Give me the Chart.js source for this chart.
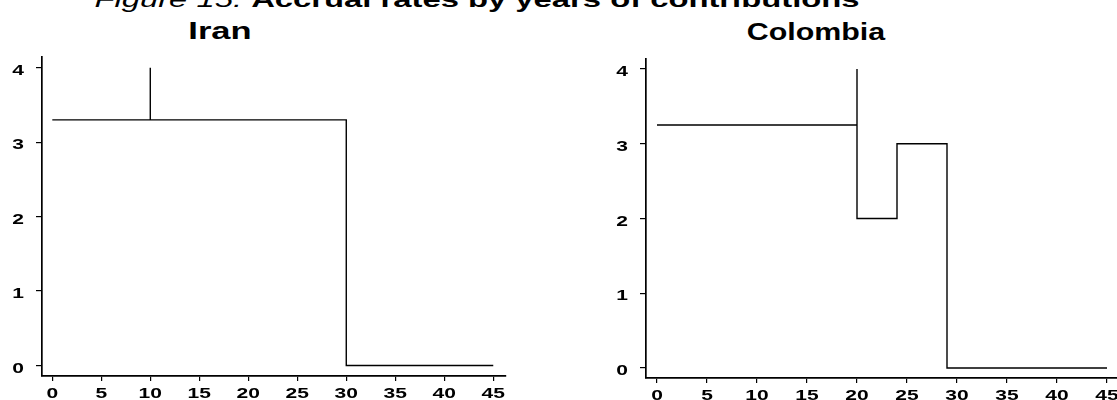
<!DOCTYPE html>
<html>
<head>
<meta charset="utf-8">
<script src="https://cdn.jsdelivr.net/npm/chart.js@4.4.1/dist/chart.umd.min.js"></script>
<style>
  body { margin: 0; background: #fff; width: 1117px; height: 400px; overflow: hidden; position: relative; font-family: "Liberation Sans", Arial, sans-serif; }
  canvas { position: absolute; top: 0; }
  #iranChart { left: 0; }
  #colChart { left: 560px; }
  .title { position: absolute; white-space: nowrap; color: #000; transform-origin: center; }
  .main { top: -11px; left: 477px; font-size: 22px; line-height: 22px; transform: translateX(-50%) scaleX(1.49); }
  .main i { font-weight: normal; }
  .main b { font-weight: bold; }
  .sub { font-weight: bold; font-size: 23px; line-height: 23px; }
</style>
</head>
<body>
<div class="title main"><i>Figure 15:</i> <b>Accrual rates by years of contributions</b></div>
<div class="title sub" style="left:220px; top:20px; transform: translateX(-50%) scaleX(1.5);">Iran</div>
<div class="title sub" style="left:816px; top:21px; transform: translateX(-50%) scaleX(1.32);">Colombia</div>
<canvas id="iranChart" width="560" height="400"></canvas>
<canvas id="colChart" width="557" height="400"></canvas>
<script>
// years of contributions / accrual rate
const iranYears = [0, 10, 10, 10, 30, 30, 45];
const iranRates = [3.3, 3.3, 4, 3.3, 3.3, 0, 0];

const colYears = [0, 20, 20, 20, 24, 24, 29, 29, 45];
const colRates = [3.25, 3.25, 4, 2, 2, 3, 3, 0, 0];

const xTickValues = [0, 5, 10, 15, 20, 25, 30, 35, 40, 45];
const yTickValues = [0, 1, 2, 3, 4];

// the scan is stretched sideways, so the tick labels are drawn wide by hand
const wideLabels = {
  id: 'wideLabels',
  afterDraw(chart) {
    const ctx = chart.ctx;
    const xs = chart.scales.x, ys = chart.scales.y;
    ctx.save();
    ctx.fillStyle = '#000';
    ctx.font = 'bold 14.5px "Liberation Sans", Arial, sans-serif';
    ctx.textBaseline = 'alphabetic';
    ctx.textAlign = 'center';
    xTickValues.forEach(v => {
      ctx.save();
      ctx.translate(xs.getPixelForValue(v), xs.top + 22);
      ctx.scale(1.45, 1);
      ctx.fillText(String(v), 0, 0);
      ctx.restore();
    });
    ctx.textAlign = 'right';
    yTickValues.forEach(v => {
      ctx.save();
      ctx.translate(chart.chartArea.left - 18, ys.getPixelForValue(v) + 7);
      ctx.scale(1.45, 1);
      ctx.fillText(String(v), 0, 0);
      ctx.restore();
    });
    ctx.restore();
  }
};

function toPoints(xs, ys) {
  return xs.map((x, i) => ({ x: x, y: ys[i] }));
}

function makeChart(id, xs, ys, s) {
  return new Chart(document.getElementById(id), {
    type: 'scatter',
    data: {
      datasets: [{
        data: toPoints(xs, ys),
        showLine: true,
        borderColor: '#000',
        borderWidth: 1.4,
        pointRadius: 0,
        tension: 0,
        fill: false
      }]
    },
    options: {
      responsive: false,
      animation: false,
      layout: { padding: s.padding },
      plugins: { legend: { display: false }, tooltip: { enabled: false } },
      scales: {
        x: {
          type: 'linear',
          min: s.xMin,
          max: s.xMax,
          border: { display: true, color: '#000', width: 1.7 },
          grid: { drawOnChartArea: false, drawTicks: true, tickLength: 5, color: '#000', lineWidth: 1.2 },
          ticks: { color: 'rgba(0,0,0,0)', padding: 4, maxRotation: 0, autoSkip: false },
          afterBuildTicks: (scale) => { scale.ticks = xTickValues.map(v => ({ value: v })); },
          afterFit: (scale) => { scale.height = s.xHeight; scale.paddingLeft = 0; scale.paddingRight = 0; }
        },
        y: {
          type: 'linear',
          min: s.yMin,
          max: s.yMax,
          border: { display: true, color: '#000', width: 1.7 },
          grid: { drawOnChartArea: false, drawTicks: true, tickLength: 6, color: '#000', lineWidth: 1.2 },
          ticks: { color: 'rgba(0,0,0,0)', padding: 10 },
          afterBuildTicks: (scale) => { scale.ticks = yTickValues.map(v => ({ value: v })); },
          afterFit: (scale) => { scale.width = 42; scale.paddingTop = 0; scale.paddingBottom = 0; }
        }
      }
    },
    plugins: [wideLabels]
  });
}

const iranChart = makeChart('iranChart', iranYears, iranRates, {
  padding: { left: 0, top: 57, right: 54, bottom: 0 },
  xMin: -1.05, xMax: 46.3, yMin: -0.141, yMax: 4.144, xHeight: 24
});

const colChart = makeChart('colChart', colYears, colRates, {
  padding: { left: 44, top: 59, right: 0, bottom: 0 },
  xMin: -1.1, xMax: 46, yMin: -0.134, yMax: 4.134, xHeight: 22
});
</script>
</body>
</html>
